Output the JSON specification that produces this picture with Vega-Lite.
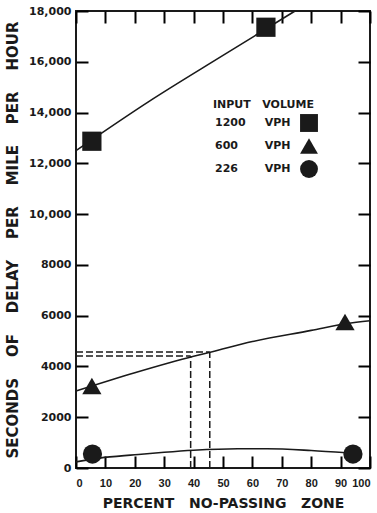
{
  "$schema": "https://vega.github.io/schema/vega-lite/v6.json",
  "width": 294,
  "height": 457,
  "autosize": "none",
  "padding": {"left": 76, "top": 11, "right": 7, "bottom": 45},
  "background": "white",
  "config": {
    "view": {"stroke": "#1a1a1a", "strokeWidth": 2},
    "font": "DejaVu Sans",
    "axis": {
      "grid": false,
      "domain": false,
      "labelFont": "DejaVu Sans",
      "labelFontWeight": "bold",
      "labelFontSize": 11,
      "labelColor": "#1a1a1a",
      "labelOverlap": false,
      "titleFont": "DejaVu Sans",
      "titleFontWeight": "bold",
      "titleColor": "#1a1a1a"
    },
    "legend": {
      "titleFont": "DejaVu Sans",
      "titleFontWeight": "bold",
      "titleFontSize": 11,
      "titleColor": "#1a1a1a",
      "labelFont": "DejaVu Sans",
      "labelFontWeight": "bold",
      "labelFontSize": 11,
      "labelColor": "#1a1a1a"
    }
  },
  "datasets": {
    "curves": [
      {"series": "1200", "x": 0, "y": 12500},
      {"series": "1200", "x": 25, "y": 14450},
      {"series": "1200", "x": 50, "y": 16250},
      {"series": "1200", "x": 74.5, "y": 18000},
      {"series": "600", "x": 0, "y": 3030},
      {"series": "600", "x": 20, "y": 3750},
      {"series": "600", "x": 40, "y": 4400},
      {"series": "600", "x": 46, "y": 4570},
      {"series": "600", "x": 60, "y": 4980},
      {"series": "600", "x": 80, "y": 5420},
      {"series": "600", "x": 92, "y": 5690},
      {"series": "600", "x": 100, "y": 5800},
      {"series": "226", "x": 0, "y": 240},
      {"series": "226", "x": 8, "y": 390},
      {"series": "226", "x": 20, "y": 520},
      {"series": "226", "x": 30, "y": 620},
      {"series": "226", "x": 40, "y": 700},
      {"series": "226", "x": 55, "y": 760},
      {"series": "226", "x": 65, "y": 760},
      {"series": "226", "x": 80, "y": 690},
      {"series": "226", "x": 92, "y": 600}
    ],
    "guides": [
      {"x": 0, "x2": 45.5, "y": 4570, "y2": 4570},
      {"x": 0, "x2": 39, "y": 4410, "y2": 4410},
      {"x": 39, "x2": 39, "y": 0, "y2": 4410},
      {"x": 45.5, "x2": 45.5, "y": 0, "y2": 4570}
    ],
    "points": [
      {"volume": "1200", "x": 5.4, "y": 12870},
      {"volume": "1200", "x": 64.6, "y": 17360},
      {"volume": "600", "x": 5.4, "y": 3230},
      {"volume": "600", "x": 91.5, "y": 5750},
      {"volume": "226", "x": 5.6, "y": 550},
      {"volume": "226", "x": 94.2, "y": 550}
    ]
  },
  "layer": [
    {
      "data": {"name": "curves"},
      "mark": {"type": "line", "interpolate": "monotone", "stroke": "#1a1a1a", "strokeWidth": 1.6},
      "encoding": {
        "x": {
          "field": "x", "type": "quantitative",
          "scale": {"domain": [0, 100], "nice": false},
          "axis": {
            "orient": "bottom",
            "values": [0, 10, 20, 30, 40, 50, 60, 70, 80, 90, 100],
            "ticks": false,
            "labelFont": "Liberation Sans",
            "labelPadding": 9,
            "title": "PERCENT\u00a0\u00a0\u00a0NO-PASSING\u00a0\u00a0\u00a0ZONE",
            "titleFontSize": 14,
            "titlePadding": 8
          }
        },
        "y": {
          "field": "y", "type": "quantitative",
          "scale": {"domain": [0, 18000], "nice": false},
          "axis": {
            "orient": "left",
            "values": [0, 2000, 4000, 6000, 8000, 10000, 12000, 14000, 16000, 18000],
            "labelExpr": "datum.value >= 10000 ? format(datum.value, ',') : format(datum.value, 'd')",
            "ticks": false,
            "labelPadding": 5,
            "title": "SECONDS\u00a0\u00a0\u00a0\u00a0OF\u00a0\u00a0\u00a0\u00a0DELAY\u00a0\u00a0\u00a0\u00a0PER\u00a0\u00a0\u00a0\u00a0MILE\u00a0\u00a0\u00a0\u00a0PER\u00a0\u00a0\u00a0\u00a0HOUR",
            "titleFontSize": 15,
            "titlePadding": 8
          }
        },
        "detail": {"field": "series"}
      }
    },
    {
      "data": {"name": "guides"},
      "mark": {"type": "rule", "stroke": "#1a1a1a", "strokeWidth": 1.5, "strokeDash": [7, 3]},
      "encoding": {
        "x": {
          "field": "x", "type": "quantitative",
          "axis": {
            "orient": "top",
            "values": [0, 10, 20, 30, 40, 50, 60, 70, 80, 90, 100],
            "labels": false,
            "ticks": true,
            "tickSize": 12,
            "tickColor": "black",
            "tickWidth": 2,
            "offset": -12,
            "title": null
          }
        },
        "x2": {"field": "x2"},
        "y": {
          "field": "y", "type": "quantitative",
          "axis": {
            "orient": "right",
            "values": [0, 2000, 4000, 6000, 8000, 10000, 12000, 14000, 16000, 18000],
            "labels": false,
            "ticks": true,
            "tickSize": 12,
            "tickColor": "black",
            "tickWidth": 2,
            "offset": -12,
            "title": null
          }
        },
        "y2": {"field": "y2"}
      }
    },
    {
      "data": {"name": "points"},
      "mark": {"type": "point", "filled": true, "opacity": 1, "color": "#1a1a1a", "size": 370},
      "encoding": {
        "x": {
          "field": "x", "type": "quantitative",
          "axis": {
            "orient": "bottom",
            "values": [0, 10, 20, 30, 40, 50, 60, 70, 80, 90, 100],
            "labels": false,
            "ticks": true,
            "tickSize": 12,
            "tickColor": "black",
            "tickWidth": 2,
            "offset": -12,
            "title": null
          }
        },
        "y": {
          "field": "y", "type": "quantitative",
          "axis": {
            "orient": "left",
            "values": [0, 2000, 4000, 6000, 8000, 10000, 12000, 14000, 16000, 18000],
            "labels": false,
            "ticks": true,
            "tickSize": 12,
            "tickColor": "black",
            "tickWidth": 2,
            "offset": -12,
            "title": null
          }
        },
        "shape": {
          "field": "volume", "type": "nominal",
          "scale": {"domain": ["1200", "600", "226"], "range": ["square", "triangle-up", "circle"]},
          "legend": {
            "orient": "none",
            "legendX": 137,
            "legendY": 88,
            "title": "INPUT\u00a0\u00a0\u00a0VOLUME",
            "titlePadding": 3,
            "symbolSize": 320,
            "symbolFillColor": "#1a1a1a",
            "symbolStrokeColor": "#1a1a1a",
            "symbolOffset": 86,
            "labelOffset": -104,
            "rowPadding": 0,
            "labelExpr": "datum.label == '1200' ? '1200\u00a0\u00a0\u00a0\u00a0\u00a0VPH' : datum.label + '\u00a0\u00a0\u00a0\u00a0\u00a0\u00a0\u00a0VPH'"
          }
        }
      }
    }
  ],
  "resolve": {"axis": {"x": "independent", "y": "independent"}}
}
